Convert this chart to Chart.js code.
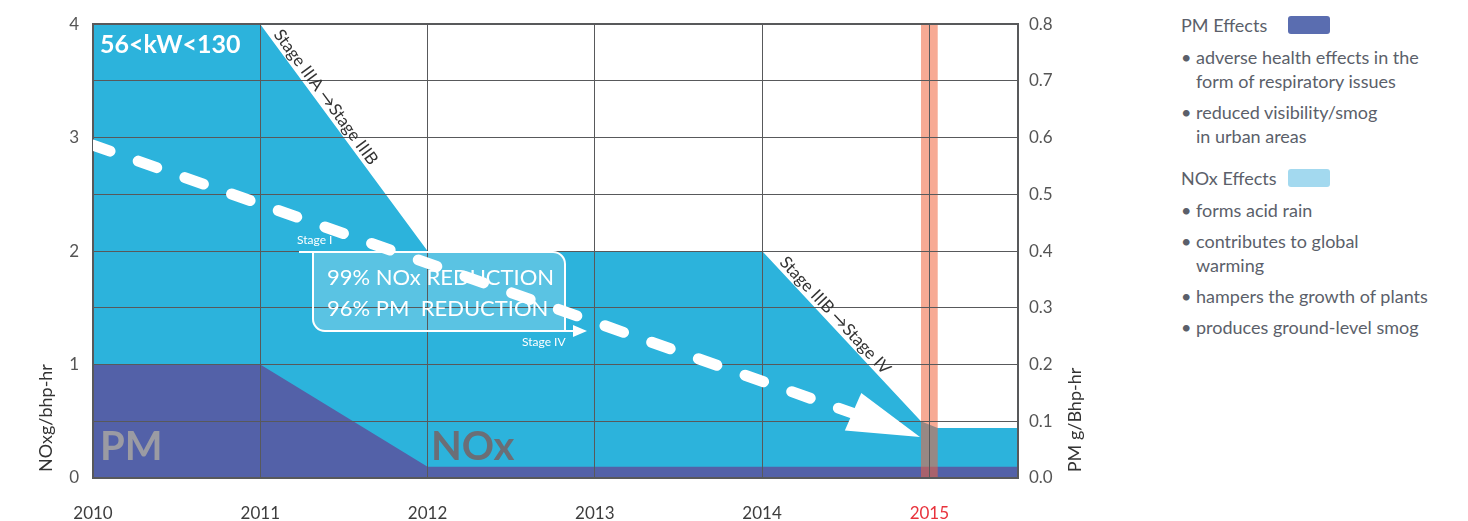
<!DOCTYPE html>
<html>
<head>
<meta charset="utf-8">
<script src="https://cdn.jsdelivr.net/npm/chart.js@4.4.1/dist/chart.umd.min.js"></script>
<style>
  body { margin: 0; background: #fff; width: 1468px; height: 521px; overflow: hidden; position: relative; font-family: Lato, "Open Sans", sans-serif; }
  #emissions { position: absolute; left: 0; top: 0; }
  .effects { position: absolute; left: 1181px; top: 13px; width: 285px; color: #5b5f6a; font-size: 18px; line-height: 24px; }
  .effects h4 { margin: 0; font-weight: normal; position: relative; }
  .effects .swatch { position: absolute; left: 107px; top: 3px; width: 42px; height: 18px; border-radius: 3px; }
  .effects ul { list-style: none; margin: 8px 0 0 0; padding: 0; }
  .effects li { position: relative; padding-left: 15px; margin-bottom: 7px; }
  .effects li::before { content: "•"; position: absolute; left: 0; top: 0; }
  .effects ul.pm { margin-bottom: 18px; }
</style>
</head>
<body>
<canvas id="emissions" width="1160" height="521"></canvas>
<div class="effects">
  <h4>PM Effects<span class="swatch" style="background:#5a6db0"></span></h4>
  <ul class="pm">
    <li>adverse health effects in the<br>form of respiratory issues</li>
    <li>reduced visibility/smog<br>in urban areas</li>
  </ul>
  <h4>NOx Effects<span class="swatch" style="background:#a3d9ef"></span></h4>
  <ul>
    <li>forms acid rain</li>
    <li>contributes to global<br>warming</li>
    <li>hampers the growth of plants</li>
    <li>produces ground-level smog</li>
  </ul>
</div>
<script>
// years on the x axis, last one (2015) highlighted
const years = [2010, 2011, 2012, 2013, 2014, 2015];
const xMax = 2015.53;

// NOx limit, g/bhp-hr (left axis)
const noxX = [2010, 2011, 2012, 2014, 2014.95, 2015.05, 2015.53];
const noxY = [4, 4, 2, 2, 0.5, 0.44, 0.44];

// PM limit, g/bhp-hr (right axis)
const pmX = [2010, 2011, 2012, 2015.53];
const pmY = [0.2, 0.2, 0.02, 0.02];

// dashed trend arrow (left axis units)
const trendX = [2010, 2014.944];
const trendY = [2.934, 0.362];

// 2015 marker band
const bandX = [2014.95, 2015.05];

const noxTicks = [0, 1, 2, 3, 4];
const pmTicks = [0, 0.1, 0.2, 0.3, 0.4, 0.5, 0.6, 0.7, 0.8];

const gridColor = "#58595b";
const white = "#ffffff";

function textAlong(ctx, text, p0, p1, dist, off) {
  const ang = Math.atan2(p1.y - p0.y, p1.x - p0.x);
  ctx.save();
  ctx.translate(p0.x, p0.y);
  ctx.rotate(ang);
  ctx.textBaseline = "alphabetic";
  ctx.textAlign = "left";
  ctx.fillText(text, dist, -off);
  ctx.restore();
}

const decor = {
  id: "decor",
  afterDatasetsDraw(chart) {
    const ctx = chart.ctx;
    const x = chart.scales.x;
    const a = chart.chartArea;
    // 2015 band
    ctx.save();
    ctx.fillStyle = "rgba(240, 100, 60, 0.55)";
    const bx0 = x.getPixelForValue(bandX[0]);
    const bx1 = x.getPixelForValue(bandX[1]);
    ctx.fillRect(bx0, a.top, bx1 - bx0, a.bottom - a.top);
    // reduction box fill
    ctx.fillStyle = "rgba(255, 255, 255, 0.22)";
    ctx.beginPath();
    ctx.moveTo(313, 252);
    ctx.lineTo(553, 252);
    ctx.arcTo(565, 252, 565, 264, 12);
    ctx.lineTo(565, 331);
    ctx.lineTo(325, 331);
    ctx.arcTo(313, 331, 313, 319, 12);
    ctx.closePath();
    ctx.fill();
    ctx.restore();
  },
  afterDraw(chart) {
    const ctx = chart.ctx;
    const x = chart.scales.x;
    const y = chart.scales.y;
    const a = chart.chartArea;

    ctx.save();
    // box outline
    ctx.strokeStyle = white;
    ctx.lineWidth = 2;
    ctx.beginPath();
    ctx.moveTo(299, 252);
    ctx.lineTo(553, 252);
    ctx.arcTo(565, 252, 565, 264, 12);
    ctx.lineTo(565, 331);
    ctx.moveTo(313, 252);
    ctx.lineTo(313, 319);
    ctx.arcTo(313, 331, 325, 331, 12);
    ctx.lineTo(578, 331);
    ctx.stroke();
    ctx.fillStyle = white;
    ctx.beginPath();
    ctx.moveTo(587, 331);
    ctx.lineTo(573, 325);
    ctx.lineTo(573, 337);
    ctx.closePath();
    ctx.fill();

    ctx.textBaseline = "middle";
    ctx.textAlign = "left";
    ctx.font = "22px Lato";
    ctx.fillText("99% NOx REDUCTION", 327, 278);
    ctx.fillText("96% PM  REDUCTION", 327, 309);
    ctx.font = "12px Lato";
    ctx.fillText("Stage I", 297, 240);
    ctx.fillText("Stage IV", 522, 342);

    // big labels
    ctx.font = "bold 25px Lato";
    ctx.fillText("56<kW<130", 100, 45);
    ctx.font = "bold 40px Lato";
    ctx.fillStyle = "#9b9ba3";
    ctx.fillText("PM", 100, 447);
    ctx.fillStyle = "#6b6e76";
    ctx.fillText("NOx", 431, 447);

    // stage transitions along the slopes
    ctx.fillStyle = "#333333";
    ctx.font = "17px Lato";
    const p = (i) => ({ x: x.getPixelForValue(noxX[i]), y: y.getPixelForValue(noxY[i]) });
    textAlong(ctx, "Stage IIIA \u2192Stage IIIB", p(1), p(2), 16, 4);
    textAlong(ctx, "Stage IIIB \u2192Stage IV", p(3), p(4), 20, 4);

    // axis titles
    ctx.font = "18px Lato";
    ctx.textAlign = "center";
    ctx.save();
    ctx.translate(46, 418);
    ctx.rotate(-Math.PI / 2);
    ctx.fillText("NOxg/bhp-hr", 0, 0);
    ctx.restore();
    ctx.save();
    ctx.translate(1075, 420);
    ctx.rotate(-Math.PI / 2);
    ctx.fillText("PM g/Bhp-hr", 0, 0);
    ctx.restore();

    // dashed trend arrow
    ctx.beginPath();
    ctx.rect(a.left, a.top, a.right - a.left, a.bottom - a.top);
    ctx.clip();
    const x0 = x.getPixelForValue(trendX[0]);
    const y0 = y.getPixelForValue(trendY[0]);
    const x1 = x.getPixelForValue(trendX[1]);
    const y1 = y.getPixelForValue(trendY[1]);
    const len = Math.hypot(x1 - x0, y1 - y0);
    ctx.translate(x0, y0);
    ctx.rotate(Math.atan2(y1 - y0, x1 - x0));
    ctx.strokeStyle = white;
    ctx.fillStyle = white;
    ctx.lineWidth = 11;
    ctx.lineCap = "round";
    ctx.setLineDash([19.6, 29.9]);
    ctx.lineDashOffset = 1.55;
    ctx.beginPath();
    ctx.moveTo(0, 0);
    ctx.lineTo(len - 60, 0);
    ctx.stroke();
    ctx.setLineDash([]);
    ctx.beginPath();
    ctx.moveTo(len, 0);
    ctx.lineTo(len - 70, -22);
    ctx.lineTo(len - 73, 19);
    ctx.closePath();
    ctx.fill();
    ctx.restore();
  }
};

new Chart(document.getElementById("emissions"), {
  type: "line",
  data: {
    datasets: [
      {
        label: "PM",
        data: pmX.map((v, i) => ({ x: v, y: pmY[i] })),
        yAxisID: "y2",
        backgroundColor: "#5361a8",
        fill: "origin",
        borderWidth: 0,
        pointRadius: 0,
      },
      {
        label: "NOx",
        data: noxX.map((v, i) => ({ x: v, y: noxY[i] })),
        yAxisID: "y",
        backgroundColor: "#2cb3dc",
        fill: "origin",
        borderWidth: 0,
        pointRadius: 0,
      },
    ],
  },
  options: {
    responsive: false,
    animation: false,
    layout: { padding: { top: 19 } },
    plugins: { legend: { display: false }, tooltip: { enabled: false } },
    scales: {
      x: {
        type: "linear",
        min: 2010,
        max: xMax,
        afterBuildTicks: (s) => { s.ticks = years.map((v) => ({ value: v })); },
        afterFit: (s) => { s.height = 43; },
        grid: { color: gridColor, lineWidth: 1, drawTicks: false, z: 1 },
        border: { color: gridColor, width: 2, z: 1 },
        ticks: {
          padding: 25,
          font: { family: "Lato", size: 17 },
          color: (c) => (c.tick && c.tick.value === 2015 ? "#e8323c" : "#3d3d3d"),
          callback: (v) => String(v),
        },
      },
      y: {
        position: "left",
        min: 0,
        max: 4,
        afterBuildTicks: (s) => { s.ticks = noxTicks.map((v) => ({ value: v })); },
        afterFit: (s) => { s.width = 93; },
        grid: { display: false, drawTicks: false },
        border: { color: gridColor, width: 2, z: 1 },
        ticks: { padding: 14, font: { family: "Lato", size: 17 }, color: "#555555" },
      },
      y2: {
        position: "right",
        min: 0,
        max: 0.8,
        afterBuildTicks: (s) => { s.ticks = pmTicks.map((v) => ({ value: v })); },
        afterFit: (s) => { s.width = 142; },
        grid: {
          color: gridColor,
          lineWidth: (c) => (c.tick && c.tick.value > 0.79 ? 2 : 1),
          drawTicks: false,
          z: 1,
        },
        border: { color: gridColor, width: 2, z: 1 },
        ticks: {
          padding: 11,
          font: { family: "Lato", size: 17 },
          color: "#555555",
          callback: (v) => Number(v).toFixed(1),
        },
      },
    },
  },
  plugins: [decor],
});
</script>
</body>
</html>
